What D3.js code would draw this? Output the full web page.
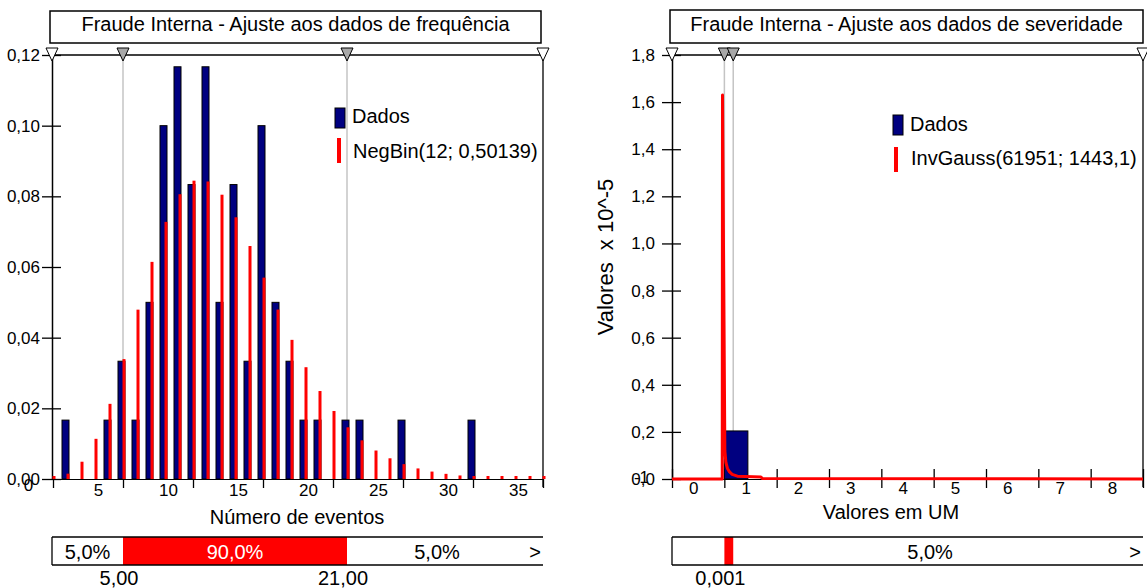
<!DOCTYPE html>
<html lang="pt">
<head>
<meta charset="utf-8">
<title>Fraude Interna - Ajustes</title>
<script src="https://cdn.jsdelivr.net/npm/d3@7"></script>
<style>
  body { margin: 0; background: #fff; }
  text { font-family: "Liberation Sans", Arial, sans-serif; fill: #000; }
</style>
</head>
<body>
<script>
// ---------- frequência ----------
var freqEvents = [1, 4, 5, 6, 7, 8, 9, 10, 11, 12, 13, 14, 15, 16, 17, 18, 19, 21, 22, 25, 30];
var freqCounts = [1, 1, 2, 1, 3, 6, 7, 5, 7, 3, 5, 2, 6, 3, 2, 1, 1, 1, 1, 1, 1];
var freqTotal = 60;
var negBinK = d3.range(0, 36);
var negBinP = [0.00025, 0.00151, 0.00489, 0.01137, 0.02127, 0.03393, 0.04793, 0.06145,
               0.07277, 0.08060, 0.08443, 0.08420, 0.08046, 0.07407, 0.06594, 0.05699,
               0.04795, 0.03938, 0.03164, 0.02490, 0.01925, 0.01463, 0.01094, 0.00806,
               0.00586, 0.00421, 0.00299, 0.00210, 0.00146, 0.00100, 0.00068, 0.00046,
               0.00031, 0.00021, 0.00014, 0.00009];
var freqXTicks = [0, 5, 10, 15, 20, 25, 30, 35];
var freqYTicks = [0, 0.02, 0.04, 0.06, 0.08, 0.10, 0.12];
var freqDelims = [5, 21];
var freqDelimLabels = ["5,00", "21,00"];
var freqPcts = ["5,0%", "90,0%", "5,0%"];

// ---------- severidade (x em UM, y x 10^-5) ----------
var sevBin = [0, 0.45];
var sevBinValue = 0.204;
var sevCurveX = [-1, -0.04, -0.035, 0.01, 0.03, 0.06, 0.1, 0.15, 0.25, 0.7, 0.73, 8];
var sevCurveY = [0, 0, 1.63, 0.12, 0.07, 0.045, 0.03, 0.02, 0.012, 0.008, 0.002, 0];
var sevXTicks = [-1, 0, 1, 2, 3, 4, 5, 6, 7, 8];
var sevYTicks = [0, 0.2, 0.4, 0.6, 0.8, 1.0, 1.2, 1.4, 1.6, 1.8];
var sevDelims = [0.001, 0.17];
var sevDelimLabels = ["0,001", ""];
var sevPcts = ["", "", "5,0%"];

var plotTop = 55, plotBase = 479;

var svg = d3.select("body").append("svg")
    .attr("width", 1147)
    .attr("height", 588);

function commaFmt(spec) {
  var f = d3.format(spec);
  return function(d) { return f(d).replace(".", ",").replace("\u2212", "-"); };
}

function titleBox(x0, x1, y0, y1, txt) {
  svg.append("rect")
     .attr("x", x0).attr("y", y0)
     .attr("width", x1 - x0).attr("height", y1 - y0)
     .attr("fill", "#fff").attr("stroke", "#000").attr("stroke-width", 1.5);
  svg.append("text")
     .attr("x", (x0 + x1) / 2).attr("y", y1 - 12)
     .attr("text-anchor", "middle")
     .attr("font-size", "20px")
     .text(txt);
}

function tri(cx, fill) {
  svg.append("path")
     .attr("d", "M" + (cx - 6) + ",48L" + (cx + 6) + ",48L" + cx + ",61Z")
     .attr("fill", fill).attr("stroke", "#000").attr("stroke-width", 1);
}

// frame, axes, delimiters and the bottom percentage bar
function panel(x, y, left, right, xTicks, yTicks, yFmt, lblDx, lblY, firstLift, yLblX, crossTicks, delims, delimLabels, pcts) {
  // delimiter lines (behind everything)
  delims.forEach(function(d) {
    svg.append("line")
       .attr("x1", x(d)).attr("x2", x(d))
       .attr("y1", plotTop).attr("y2", plotBase)
       .attr("stroke", "#c4c4c4").attr("stroke-width", 1.5);
  });

  // top slider line + right edge
  svg.append("line").attr("x1", left).attr("x2", right)
     .attr("y1", plotTop).attr("y2", plotTop)
     .attr("stroke", "#000").attr("stroke-width", 1.3);
  svg.append("line").attr("x1", right).attr("x2", right)
     .attr("y1", plotTop).attr("y2", plotBase + 8)
     .attr("stroke", "#000").attr("stroke-width", 1.3);

  // y axis
  var ya = svg.append("g")
     .attr("transform", "translate(" + left + ",0)")
     .call(d3.axisLeft(y).tickValues(yTicks).tickFormat(yFmt).tickSizeOuter(0));
  ya.select(".domain").attr("stroke-width", 1.5);
  ya.selectAll(".tick line").attr("x1", -10).attr("x2", 9).attr("stroke-width", 1.3);
  ya.selectAll(".tick text").attr("x", yLblX).attr("font-size", "17px")
    .attr("font-family", "Liberation Sans, Arial, sans-serif");

  // x axis (labels sit left of their tick, as in the original)
  var xa = svg.append("g")
     .attr("transform", "translate(0," + plotBase + ")")
     .call(d3.axisBottom(x).tickValues(xTicks).tickFormat(commaFmt("d")).tickSizeInner(9).tickSizeOuter(0));
  xa.select(".domain").attr("stroke-width", 1.2);
  xa.selectAll(".tick line").attr("y1", crossTicks ? -10 : 0).attr("stroke-width", 1.3);
  xa.selectAll(".tick text")
    .attr("y", function(d, i) { return i === 0 ? lblY - firstLift : lblY; })
    .attr("dx", lblDx).attr("font-size", "17px")
    .attr("font-family", "Liberation Sans, Arial, sans-serif");

  // triangles on the slider
  tri(left, "#fff");
  tri(right, "#fff");
  delims.forEach(function(d) { tri(x(d), "#a8a8a8"); });

  // bottom percentage bar
  var b0 = 537, b1 = 565;
  svg.append("rect")
     .attr("x", x(delims[0])).attr("y", b0)
     .attr("width", x(delims[1]) - x(delims[0])).attr("height", b1 - b0)
     .attr("fill", "#ff0000");
  [b0, b1].forEach(function(yy) {
    svg.append("line").attr("x1", left).attr("x2", right)
       .attr("y1", yy).attr("y2", yy)
       .attr("stroke", "#000").attr("stroke-width", 1.3);
  });
  svg.append("line").attr("x1", left).attr("x2", left)
     .attr("y1", b0).attr("y2", b1)
     .attr("stroke", "#000").attr("stroke-width", 1.3);
  var edges = [left, x(delims[0]), x(delims[1]), right - 16];
  pcts.forEach(function(p, i) {
    svg.append("text")
       .attr("x", (edges[i] + edges[i + 1]) / 2).attr("y", 559)
       .attr("text-anchor", "middle").attr("font-size", "20px")
       .style("fill", i === 1 ? "#fff" : "#000")
       .text(p);
  });
  svg.append("text").attr("x", right - 8).attr("y", 559)
     .attr("text-anchor", "middle").attr("font-size", "20px").text(">");
  delims.forEach(function(d, i) {
    svg.append("text")
       .attr("x", x(d) - 4).attr("y", 585)
       .attr("text-anchor", "middle").attr("font-size", "20px")
       .text(delimLabels[i]);
  });
}

function legend(bx, by, lx, ly, t1, t2, ty1, ty2) {
  svg.append("rect").attr("x", bx).attr("y", by).attr("width", 10).attr("height", 20)
     .attr("fill", "#000080").attr("stroke", "#000").attr("stroke-width", 1);
  svg.append("rect").attr("x", lx).attr("y", ly).attr("width", 4).attr("height", 25)
     .attr("fill", "#ff0000");
  svg.append("text").attr("x", bx + 17).attr("y", ty1).attr("font-size", "20px").text(t1);
  svg.append("text").attr("x", bx + 18).attr("y", ty2).attr("font-size", "20px").text(t2);
}

// ================= painel da frequência =================
var xF = d3.scaleLinear().domain([0, 35]).range([53, 543]);
var yF = d3.scaleLinear().domain([0, 0.12]).range([plotBase, plotTop]);

titleBox(50, 541, 11, 43, "Fraude Interna - Ajuste aos dados de frequência");
panel(xF, yF, 52, 543, freqXTicks, freqYTicks, commaFmt(".2f"), -25, 5, 5, -12, false,
      freqDelims, freqDelimLabels, freqPcts);

svg.selectAll("rect.obs")
   .data(freqEvents)
   .enter()
   .append("rect")
   .attr("class", "obs")
   .attr("x", function(d) { return xF(d) - 5; })
   .attr("width", 7)
   .attr("y", function(d, i) { return yF(freqCounts[i] / freqTotal); })
   .attr("height", function(d, i) { return plotBase - yF(freqCounts[i] / freqTotal); })
   .attr("fill", "#000080")
   .attr("stroke", "#000")
   .attr("stroke-width", 1);

svg.selectAll("rect.fit")
   .data(negBinK)
   .enter()
   .append("rect")
   .attr("class", "fit")
   .attr("x", function(d) { return xF(d) - 0.5; })
   .attr("width", 3)
   .attr("y", function(d, i) { return plotBase - Math.max(3, plotBase - yF(negBinP[i])); })
   .attr("height", function(d, i) { return Math.max(3, plotBase - yF(negBinP[i])); })
   .attr("fill", "#ff0000");

legend(335, 108, 337, 138, "Dados", "NegBin(12; 0,50139)", 123, 158);

svg.append("text")
   .attr("x", 297).attr("y", 524)
   .attr("text-anchor", "middle").attr("font-size", "20px")
   .text("Número de eventos");

// ================= painel da severidade =================
var xS = d3.scaleLinear().domain([-1, 8]).range([672, 1143]);
var yS = d3.scaleLinear().domain([0, 1.8]).range([plotBase, plotTop]);

titleBox(670, 1143, 10, 43, "Fraude Interna - Ajuste aos dados de severidade");
panel(xS, yS, 672, 1143, sevXTicks, sevYTicks, commaFmt(".1f"), -31, 3, 11, -17, true,
      sevDelims, sevDelimLabels, sevPcts);

svg.append("rect")
   .attr("x", xS(sevBin[0]))
   .attr("width", xS(sevBin[1]) - xS(sevBin[0]))
   .attr("y", yS(sevBinValue))
   .attr("height", plotBase - yS(sevBinValue))
   .attr("fill", "#000080")
   .attr("stroke", "#000")
   .attr("stroke-width", 1);

var sevLine = d3.line()
    .x(function(d) { return xS(d[0]); })
    .y(function(d) { return yS(d[1]); });

svg.append("path")
   .datum(d3.zip(sevCurveX, sevCurveY))
   .attr("d", sevLine)
   .attr("fill", "none")
   .attr("stroke", "#ff0000")
   .attr("stroke-width", 3)
   .attr("stroke-linejoin", "round");

legend(893, 115, 894, 147, "Dados", "InvGauss(61951; 1443,1)", 131, 165);

svg.append("text")
   .attr("x", 891).attr("y", 519)
   .attr("text-anchor", "middle").attr("font-size", "20px")
   .text("Valores em UM");

svg.append("text")
   .attr("transform", "translate(613,257) rotate(-90)")
   .attr("text-anchor", "middle").attr("font-size", "22px")
   .style("white-space", "pre")
   .text("Valores  x 10^-5");
</script>
</body>
</html>
